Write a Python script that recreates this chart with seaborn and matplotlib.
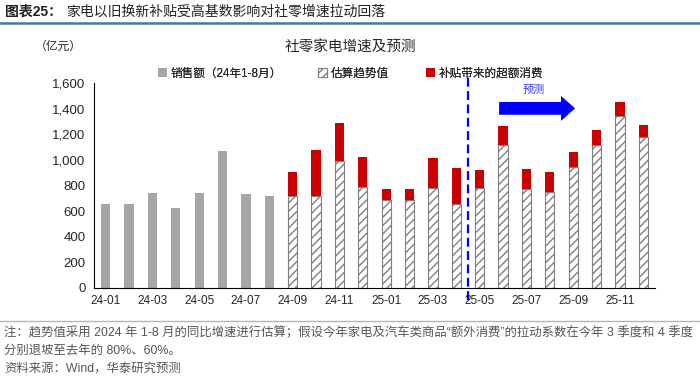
import matplotlib
matplotlib.use("Agg")
import matplotlib.pyplot as plt
import matplotlib.transforms as mtransforms
from matplotlib.patches import Patch
from matplotlib.lines import Line2D
from matplotlib.ticker import FuncFormatter
import seaborn as sns
import pandas as pd

# Data
months = ["24-01", "24-02", "24-03", "24-04", "24-05", "24-06", "24-07", "24-08",
          "24-09", "24-10", "24-11", "24-12", "25-01", "25-02", "25-03", "25-04",
          "25-05", "25-06", "25-07", "25-08", "25-09", "25-10", "25-11", "25-12"]
sales_months = months[:8]
sales = [655, 655, 745, 625, 745, 1070, 735, 720]
est_months = months[8:]
trend = [720, 720, 990, 790, 690, 690, 783, 659, 778, 1120, 773, 752, 946, 1120, 1346, 1177]
extra = [185, 355, 295, 235, 83, 83, 228, 274, 140, 145, 155, 150, 115, 114, 106, 99]
tick_labels = months[::2]

legend_labels = ["销售额（24年1-8月）", "估算趋势值", "补贴带来的超额消费"]
legend_x = [158, 318, 426]  # pixel position of each legend square

GRAY = "#a6a6a6"
RED = "#cc0000"
BLUE = "#0000ff"

sns.set_theme(style="white")
plt.rcParams["font.family"] = ["Liberation Sans", "Noto Sans CJK SC"]
plt.rcParams["hatch.color"] = "#555555"
plt.rcParams["hatch.linewidth"] = 1.0

df_sales = pd.DataFrame({"month": sales_months, "value": sales})
df_est = pd.DataFrame({"month": est_months, "trend": trend, "extra": extra})
df_est["total"] = df_est["trend"] + df_est["extra"]

fig = plt.figure(figsize=(7, 3.77), dpi=100)
ax = fig.add_axes([94 / 700, 1 - 288 / 377, (655 - 94) / 700, (288 - 83) / 377])

sns.barplot(data=df_sales, x="month", y="value", order=months, color=GRAY,
            saturation=1, width=0.4, errorbar=None, ax=ax, linewidth=0)
sns.barplot(data=df_est, x="month", y="total", order=months, color=RED,
            saturation=1, width=0.4, errorbar=None, ax=ax, linewidth=0)
sns.barplot(data=df_est, x="month", y="trend", order=months, color="white",
            saturation=1, width=0.4, errorbar=None, ax=ax,
            edgecolor="#7f7f7f", linewidth=0.8, hatch="////")

ax.set_xlim(-0.5, len(months) - 0.5)
ax.set_ylim(0, 1600)
ax.set_yticks(range(0, 1601, 200))
ax.yaxis.set_major_formatter(FuncFormatter(lambda v, p: f"{int(v):,}"))
ax.set_xticks(range(0, len(months), 2))
ax.set_xticklabels(tick_labels)
ax.set_xticks([i - 0.5 for i in range(0, len(months) + 1, 2)], minor=True)
ax.tick_params(axis="x", which="major", length=0, labelsize=8.5, pad=5)
ax.tick_params(axis="x", which="minor", length=4, width=0.8, direction="out", color="black")
ax.tick_params(axis="y", length=4, width=0.8, direction="out", labelsize=9.5, color="black", pad=2)
ax.set_xlabel("")
ax.set_ylabel("")
for s in ["top", "right"]:
    ax.spines[s].set_visible(False)
for s in ["left", "bottom"]:
    ax.spines[s].set_color("black")
    ax.spines[s].set_linewidth(0.8)

# forecast divider
trans = mtransforms.blended_transform_factory(ax.transData, ax.transAxes)
ax.add_line(Line2D([15.5, 15.5], [-0.06, 1.05], transform=trans, clip_on=False,
                   color=BLUE, lw=1.6, linestyle=(0, (4, 2))))

# forecast arrow
ax.arrow(16.83, 1402, 3.25, 0, width=100, head_width=195, head_length=0.6,
         length_includes_head=True, color=BLUE, lw=0, clip_on=False)
ax.text(18.3, 1547, "预测", color="#3333ff", fontsize=8, style="italic",
        ha="center", va="center", family=["Noto Sans CJK SC"])

handles = [Patch(facecolor=GRAY, edgecolor="none"),
           Patch(facecolor="white", edgecolor="#7f7f7f", hatch="////", linewidth=0.8),
           Patch(facecolor=RED, edgecolor="none")]
for h, lab, px in zip(handles, legend_labels, legend_x):
    fig.add_artist(fig.legend([h], [lab], loc="center left",
                              bbox_to_anchor=(px / 700, 1 - 74 / 377), frameon=False,
                              handlelength=0.8, handleheight=0.8, handletextpad=0.3,
                              fontsize=8.4, borderaxespad=0, borderpad=0))

# header and notes
fig.text(5 / 700, 1 - 12 / 377, "图表25：", fontsize=10, fontweight="bold",
         va="center", ha="left", color="#222222")
fig.text(66 / 700, 1 - 12 / 377, "家电以旧换新补贴受高基数影响对社零增速拉动回落",
         fontsize=10, va="center", ha="left", color="#222222")
fig.add_artist(Line2D([0, 1], [1 - 22.5 / 377] * 2, transform=fig.transFigure,
                      color="#4f73a8", lw=1.8))
fig.text(58 / 700, 1 - 47 / 377, "（亿元）", fontsize=8.5, va="center", ha="center")
fig.text(350 / 700, 1 - 47 / 377, "社零家电增速及预测", fontsize=10.5, va="center", ha="center")

fig.add_artist(Line2D([0, 1], [1 - 321 / 377] * 2, transform=fig.transFigure,
                      color="#9dbad8", lw=1.0))
note_color = "#555555"
note_size = 8.9
fig.text(4 / 700, 1 - 333 / 377,
         "注：趋势值采用 2024 年 1-8 月的同比增速进行估算；假设今年家电及汽车类商品“额外消费”的拉动系数在今年 3 季度和 4 季度",
         fontsize=note_size, va="center", ha="left", color=note_color)
fig.text(4 / 700, 1 - 351 / 377, "分别退坡至去年的 80%、60%。",
         fontsize=note_size, va="center", ha="left", color=note_color)
fig.text(4 / 700, 1 - 369 / 377, "资料来源：Wind，华泰研究预测",
         fontsize=note_size, va="center", ha="left", color=note_color)

fig.savefig("out.png", dpi=100)
